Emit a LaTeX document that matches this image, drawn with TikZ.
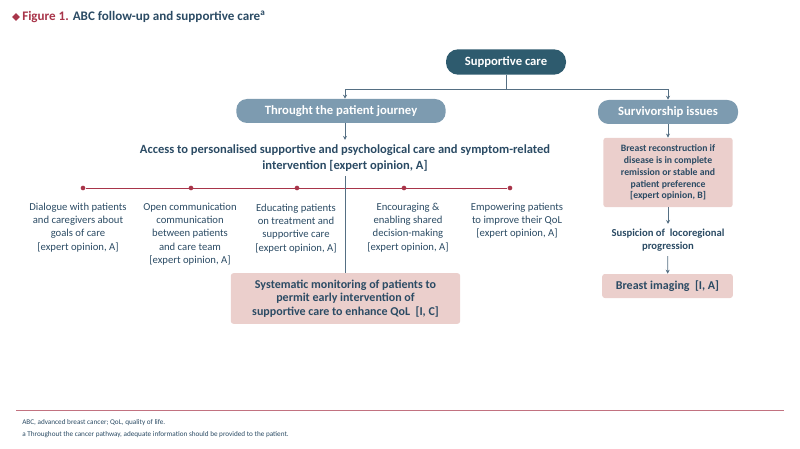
\documentclass[tikz,border=0pt]{standalone}
\usepackage{fontspec}
\setmainfont{Carlito}
\usetikzlibrary{arrows.meta,shapes.geometric}
\definecolor{navy}{HTML}{2B4B64}
\definecolor{teal}{HTML}{2E5B6E}
\definecolor{slate}{HTML}{7D9BB0}
\definecolor{blush}{HTML}{EBCFCC}
\definecolor{wine}{HTML}{A8354A}
\tikzset{
  top/.style={rounded corners=9pt, fill=teal, text=white, font=\bfseries\fontsize{9.5}{11}\selectfont, minimum width=90pt, minimum height=19pt},
  branch/.style={rounded corners=8pt, fill=slate, text=white, font=\bfseries\fontsize{9.5}{11}\selectfont, minimum height=18pt},
  pinkbox/.style={rounded corners=2pt, fill=blush, text=navy, font=\bfseries\fontsize{8}{9.3}\selectfont, align=center},
  item/.style={text=navy, font=\fontsize{8}{10}\selectfont, align=center, anchor=north},
  link/.style={navy!80, line width=0.6pt},
  arr/.style={link, -{Stealth[length=3pt,width=3pt]}},
  dot/.style={circle, fill=wine, inner sep=0pt, minimum size=3.5pt}
}
\begin{document}
\begin{tikzpicture}[x=0.75pt, y=-0.75pt]
\useasboundingbox (0,0) rectangle (800,449);
% title
\node[diamond, fill=wine, inner sep=0pt, minimum size=6pt] (mark) at (16,17) {};
\node[anchor=west, font=\bfseries\fontsize{9.8}{11}\selectfont, inner sep=0pt] (title) at (22,17)
  {\textcolor{wine}{Figure 1.} \textcolor{navy}{ABC follow-up and supportive care\textsuperscript{a}}};
% tree
\node[top] (care) at (506,62) {Supportive care};
\node[branch, minimum width=157pt] (journey) at (341,111) {Throught the patient journey};
\node[branch, minimum width=105pt] (surv) at (668,112) {Survivorship issues};
\coordinate (split) at (506,89);
\draw[link] (care) -- (split);
\draw[arr] (split) -| (journey.north -| 345,0);
\draw[arr] (split) -| (surv);
\node[text=navy, font=\bfseries\fontsize{9.4}{12}\selectfont, align=center] (access) at (345,158)
  {Access to personalised supportive and psychological care and symptom-related\\intervention [expert opinion, A]};
\draw[arr] (journey.south -| 345,0) -- (access.north -| 345,0);
% timeline
\foreach \x/\n in {83/d1,191/d2,297/d3,404/d4,510/d5}
  \node[dot] (\n) at (\x,188) {};
\draw[wine, line width=0.7pt] (d1) -- (d5);
\node[item] (t1) at (78,198) {Dialogue with patients\\and caregivers about\\goals of care\\{[expert opinion, A]}};
\node[item] (t2) at (190,198) {Open communication\\communication\\between patients\\and care team\\{[expert opinion, A]}};
\node[item] (t3) at (296,199) {Educating patients\\on treatment and\\supportive care\\{[expert opinion, A]}};
\node[item] (t4) at (408,198) {Encouraging \&\\enabling shared\\decision-making\\{[expert opinion, A]}};
\node[item] (t5) at (517,198) {Empowering patients\\to improve their QoL\\{[expert opinion, A]}};
\node[pinkbox, minimum width=172pt, minimum height=38pt, font=\bfseries\fontsize{9}{10}\selectfont] (monitor) at (345.5,298.5)
  {Systematic monitoring of patients to\\permit early intervention of\\supportive care to enhance QoL\ \ [I, C]};
\draw[link] (access.south -| 345,0) -- (monitor.north -| 345,0);
% right branch
\node[pinkbox, minimum width=97pt, minimum height=52pt, font=\bfseries\fontsize{7.3}{8.9}\selectfont] (recon) at (668,172.5)
  {Breast reconstruction if\\disease is in complete\\remission or stable and\\patient preference\\{[expert opinion, B]}};
\draw[arr] (surv) -- (recon);
\node[text=navy, font=\bfseries\fontsize{8}{10}\selectfont, align=center] (susp) at (668,240)
  {Suspicion of\ \ locoregional\\progression};
\draw[arr] (recon) -- (susp);
\node[pinkbox, minimum width=98pt, minimum height=18pt, font=\bfseries\fontsize{9}{10}\selectfont] (imaging) at (667.5,286)
  {Breast imaging\ \ [I, A]};
\draw[arr] (susp) -- (imaging);
% footer
\coordinate (fl) at (16,410);
\coordinate (fr) at (784,410);
\draw[wine!70, line width=0.6pt] (fl) -- (fr);
\node[anchor=west, text=navy, font=\fontsize{5.4}{6}\selectfont, inner sep=0pt] (note1) at (22,423) {ABC, advanced breast cancer; QoL, quality of life.};
\node[anchor=west, text=navy, font=\fontsize{5.4}{6}\selectfont, inner sep=0pt] (note2) at (22,435) {a Throughout the cancer pathway, adequate information should be provided to the patient.};
\end{tikzpicture}
\end{document}
